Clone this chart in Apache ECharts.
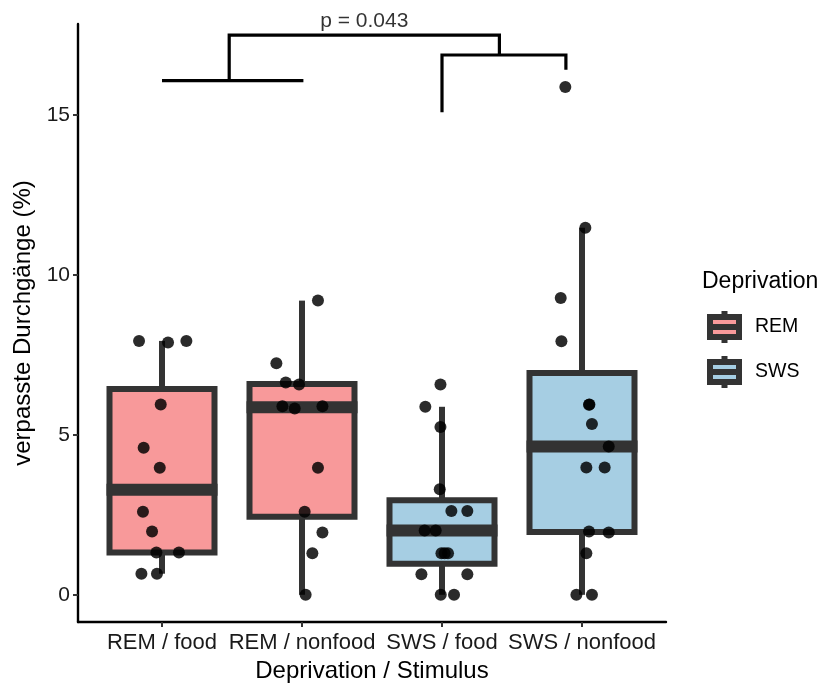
<!DOCTYPE html>
<html>
<head>
<meta charset="utf-8">
<script src="https://cdn.jsdelivr.net/npm/echarts@6/dist/echarts.min.js"></script>
<style>
  html, body { margin: 0; padding: 0; background: #ffffff; }
  #chart { width: 824px; height: 688px; }
</style>
</head>
<body>
<div id="chart"></div>
<script>
// Categories on the x axis and the deprivation group of each
const categories = ['REM / food', 'REM / nonfood', 'SWS / food', 'SWS / nonfood'];
const groupOf = ['REM', 'REM', 'SWS', 'SWS'];
const groupNames = ['REM', 'SWS'];

// Missed trials (%) per participant, one array per condition
const remFood = [7.94, 7.89, 7.94, 5.95, 4.60, 3.97, 2.60, 1.98, 1.32, 1.32, 0.66, 0.66];
const remNonfood = [9.20, 7.24, 6.64, 6.58, 5.90, 5.83, 5.90, 3.97, 2.60, 1.95, 1.30, 0];
const swsFood = [6.58, 5.88, 5.25, 3.30, 2.62, 2.62, 2.01, 2.01, 1.30, 1.30, 1.30, 0.64, 0.64, 0, 0];
const swsNonfood = [15.88, 11.48, 9.28, 7.93, 5.94, 5.95, 5.34, 4.64, 3.98, 3.98, 1.98, 1.95, 1.30, 0, 0];

// Horizontal jitter of each point (in category units)
const remFoodJitter = [-0.164, 0.043, 0.174, -0.009, -0.131, -0.016, -0.136, -0.071, -0.040, 0.121, -0.147, -0.036];
const remNonfoodJitter = [0.114, -0.183, -0.116, -0.021, -0.140, -0.052, 0.146, 0.114, 0.019, 0.146, 0.074, 0.026];
const swsFoodJitter = [-0.011, -0.119, -0.011, -0.016, 0.067, 0.181, -0.124, -0.045, -0.004, 0.043, 0.019, -0.147, 0.181, -0.009, 0.086];
const swsNonfoodJitter = [-0.119, 0.024, -0.152, -0.147, 0.050, 0.053, 0.071, 0.191, 0.031, 0.162, 0.050, 0.191, 0.031, -0.040, 0.071];

// Y axis tick values
const yTicks = [0, 5, 10, 15];

// Significance annotation
const pLabel = 'p = 0.043';
const bracketPaths = [
  [[0, 16.08], [1.01, 16.08]],
  [[0.48, 16.08], [0.48, 17.5], [2.41, 17.5], [2.41, 16.88]],
  [[2.0, 15.09], [2.0, 16.88], [2.885, 16.88], [2.885, 16.42]]
];
const pLabelAt = [1.445, 17.5];

const values = [remFood, remNonfood, swsFood, swsNonfood];
const jitters = [remFoodJitter, remNonfoodJitter, swsFoodJitter, swsNonfoodJitter];

const FILL = { REM: '#F8999A', SWS: '#A6CEE3' };
const INK = '#333333';
const FONT = 'Liberation Sans, Arial, Helvetica, sans-serif';
const BOX_WIDTH = 0.75;

// Quantile (same rule as R's default type 7)
function quantile(sorted, p) {
  const h = (sorted.length - 1) * p;
  const lo = Math.floor(h);
  const hi = Math.min(lo + 1, sorted.length - 1);
  return sorted[lo] + (h - lo) * (sorted[hi] - sorted[lo]);
}

// Box statistics with whiskers reaching the furthest point within 1.5 IQR
function boxStats(arr) {
  const s = arr.slice().sort((a, b) => a - b);
  const q1 = quantile(s, 0.25), med = quantile(s, 0.5), q3 = quantile(s, 0.75);
  const iqr = q3 - q1;
  const inside = s.filter(v => v >= q1 - 1.5 * iqr && v <= q3 + 1.5 * iqr);
  return [inside[0], q1, med, q3, inside[inside.length - 1]];
}

function boxData(group) {
  const out = [];
  values.forEach((arr, i) => {
    if (groupOf[i] === group) out.push([i].concat(boxStats(arr)));
  });
  return out;
}

const points = [];
values.forEach((arr, i) => {
  arr.forEach((v, j) => points.push([i + jitters[i][j], v]));
});

function renderBox(params, api) {
  const x = api.value(0);
  const lo = api.coord([x, api.value(1)]);
  const q1 = api.coord([x, api.value(2)]);
  const med = api.coord([x, api.value(3)]);
  const q3 = api.coord([x, api.value(4)]);
  const hi = api.coord([x, api.value(5)]);
  const half = api.size([BOX_WIDTH, 0])[0] / 2;
  const lw = 6;
  return {
    type: 'group',
    children: [
      { type: 'line', shape: { x1: lo[0], y1: lo[1], x2: q1[0], y2: q1[1] }, style: { stroke: INK, lineWidth: lw } },
      { type: 'line', shape: { x1: q3[0], y1: q3[1], x2: hi[0], y2: hi[1] }, style: { stroke: INK, lineWidth: lw } },
      { type: 'rect', shape: { x: q3[0] - half, y: q3[1], width: 2 * half, height: q1[1] - q3[1] },
        style: { fill: api.visual('color'), stroke: INK, lineWidth: lw } },
      { type: 'line', shape: { x1: med[0] - half - lw / 2, y1: med[1], x2: med[0] + half + lw / 2, y2: med[1] },
        style: { stroke: INK, lineWidth: 12 } }
    ]
  };
}

const keyIcon = 'path://M0,6 L29,6 L29,26 L0,26 Z M0,16 L29,16 M14.5,0 L14.5,6 M14.5,26 L14.5,32';

const series = [];
groupNames.forEach(g => {
  series.push({
    name: g,
    type: 'custom',
    renderItem: renderBox,
    itemStyle: { color: FILL[g] },
    encode: { x: 0, y: [1, 2, 3, 4, 5] },
    data: boxData(g),
    z: 2,
    silent: true
  });
});

series.push({
  name: 'points',
  type: 'scatter',
  data: points,
  symbolSize: 12,
  itemStyle: { color: 'rgba(0,0,0,0.83)', opacity: 1 },
  z: 5,
  silent: true
});

bracketPaths.forEach((path, k) => {
  series.push({
    name: 'bracket' + k,
    type: 'line',
    data: path,
    symbol: 'none',
    clip: false,
    lineStyle: { color: '#000000', width: 3.2, cap: 'butt', join: 'miter' },
    z: 6,
    silent: true
  });
});

series.push({
  name: 'pvalue',
  type: 'scatter',
  data: [pLabelAt],
  symbolSize: 0,
  clip: false,
  label: {
    show: true,
    position: 'top',
    distance: 3,
    formatter: pLabel,
    color: '#000000',
    fontFamily: FONT,
    fontSize: 21
  },
  z: 6,
  silent: true
});

const chart = echarts.init(document.getElementById('chart'), null, { renderer: 'canvas' });
chart.setOption({
  animation: false,
  backgroundColor: '#ffffff',
  textStyle: { fontFamily: FONT },
  grid: { left: 78, right: 158, top: 24, bottom: 62, containLabel: false },
  title: {
    text: 'Deprivation',
    left: 702,
    top: 270,
    padding: 0,
    textStyle: { fontFamily: FONT, fontSize: 23, fontWeight: 'normal', color: '#000000' }
  },
  legend: {
    orient: 'vertical',
    left: 707,
    top: 308,
    padding: 0,
    itemWidth: 29,
    itemHeight: 32,
    itemGap: 7,
    selectedMode: false,
    textStyle: { fontFamily: FONT, fontSize: 19.5, color: '#000000', padding: [0, 0, 0, 11] },
    data: groupNames.map(g => ({
      name: g,
      icon: keyIcon,
      itemStyle: { color: FILL[g], borderColor: INK, borderWidth: 6 }
    }))
  },
  xAxis: {
    type: 'value',
    min: -0.6,
    max: 3.6,
    splitLine: { show: false },
    axisLine: { show: true, onZero: false, lineStyle: { color: '#000000', width: 2.4 } },
    axisTick: { show: true, length: 5, customValues: [0, 1, 2, 3], lineStyle: { color: INK, width: 2 } },
    axisLabel: {
      customValues: [0, 1, 2, 3],
      formatter: v => categories[Math.round(v)],
      margin: 10,
      color: '#1a1a1a',
      fontFamily: FONT,
      fontSize: 22
    },
    name: 'Deprivation / Stimulus',
    nameLocation: 'middle',
    nameGap: 37,
    nameTextStyle: { fontFamily: FONT, fontSize: 24, color: '#000000' }
  },
  yAxis: {
    type: 'value',
    min: -0.85,
    max: 17.85,
    splitLine: { show: false },
    axisLine: { show: true, onZero: false, lineStyle: { color: '#000000', width: 2.4 } },
    axisTick: { show: true, length: 5, customValues: yTicks, lineStyle: { color: INK, width: 2 } },
    axisLabel: {
      customValues: yTicks,
      margin: 8,
      color: '#1a1a1a',
      fontFamily: FONT,
      fontSize: 21
    },
    name: 'verpasste Durchgänge (%)',
    nameLocation: 'middle',
    nameGap: 33,
    nameTextStyle: { fontFamily: FONT, fontSize: 24, color: '#000000' }
  },
  series: series
});
</script>
</body>
</html>
